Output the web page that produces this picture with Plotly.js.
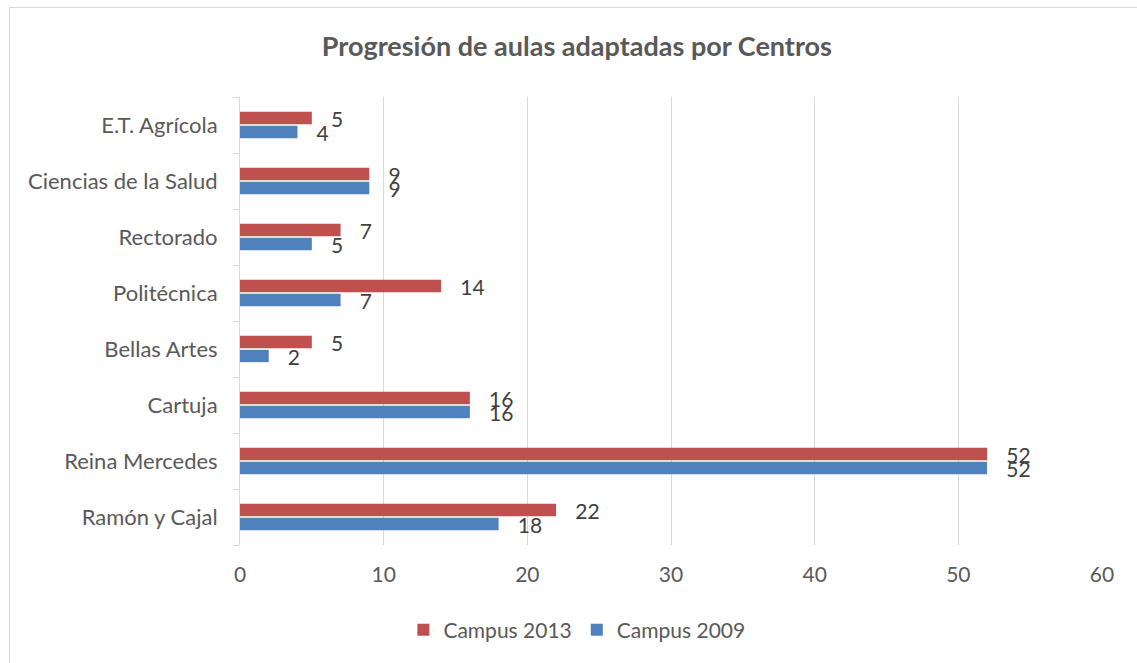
<!DOCTYPE html>
<html>
<head>
<meta charset="utf-8">
<script src="https://cdn.plot.ly/plotly-3.0.1.min.js"></script>
<style>
  html, body { margin: 0; padding: 0; background: #fff; overflow: hidden; }
  #frame { position: absolute; left: 9px; top: 7px; border-left: 1px solid #d9d9d9; border-top: 1px solid #d9d9d9; }
  #chart { width: 1127px; height: 655px; }
</style>
</head>
<body>
<div id="frame"><div id="chart"></div></div>
<script>
const categories = ['Ramón y Cajal', 'Reina Mercedes', 'Cartuja', 'Bellas Artes', 'Politécnica', 'Rectorado', 'Ciencias de la Salud', 'E.T. Agrícola'];
const campus2009 = [18, 52, 16, 2, 7, 5, 9, 4];
const campus2013 = [22, 52, 16, 5, 14, 7, 9, 5];
const xTicks = [0, 10, 20, 30, 40, 50, 60];

const FONT = 'Lato, "Open Sans", sans-serif';
const pad = '\u00a0\u00a0\u00a0';

const traces = [
  {
    type: 'bar', orientation: 'h', name: 'Campus 2009',
    y: categories, x: campus2009,
    marker: { color: '#4f81bd' },
    text: campus2009.map(String), texttemplate: pad + '%{text}',
    textposition: 'outside', constraintext: 'none', cliponaxis: false,
    textfont: { family: FONT, size: 21, color: '#404040' },
    hoverinfo: 'x+y'
  },
  {
    type: 'bar', orientation: 'h', name: 'Campus 2013',
    y: categories, x: campus2013,
    marker: { color: '#c0504d' },
    text: campus2013.map(String), texttemplate: pad + '%{text}',
    textposition: 'outside', constraintext: 'none', cliponaxis: false,
    textfont: { family: FONT, size: 21, color: '#404040' },
    hoverinfo: 'x+y'
  }
];

const layout = {
  width: 1127, height: 655,
  margin: { l: 230, r: 35, t: 89, b: 118 },
  paper_bgcolor: '#ffffff', plot_bgcolor: '#ffffff',
  font: { family: FONT, color: '#595959' },
  title: {
    text: '<b>Progresión de aulas adaptadas por Centros</b>',
    font: { family: FONT, size: 27, color: '#595959' },
    xref: 'container', x: 0.503, xanchor: 'center',
    yref: 'container', y: 1 - 39 / 655, yanchor: 'middle'
  },
  barmode: 'group', bargap: 0.5, bargroupgap: 0.12,
  xaxis: {
    range: [0, 60], tickvals: xTicks, ticktext: xTicks.map(String),
    showgrid: true, gridcolor: '#d9d9d9', gridwidth: 1,
    zeroline: false, showline: false, ticks: '',
    tickfont: { family: FONT, size: 21, color: '#595959' },
    ticklabelstandoff: 15, fixedrange: true
  },
  yaxis: {
    type: 'category', categoryorder: 'array', categoryarray: categories,
    showline: true, linecolor: '#d9d9d9', linewidth: 1,
    ticks: 'outside', tickson: 'boundaries', ticklen: 6, tickcolor: '#d9d9d9',
    showgrid: false, zeroline: false,
    tickfont: { family: FONT, size: 22, color: '#595959' },
    ticklabelstandoff: 17, fixedrange: true
  },
  showlegend: true,
  legend: {
    orientation: 'h', traceorder: 'reversed',
    xref: 'container', x: 0.503, xanchor: 'center',
    yref: 'container', y: 1 - 622 / 655, yanchor: 'middle',
    font: { family: FONT, size: 21, color: '#595959' },
    itemwidth: 30
  }
};

Plotly.newPlot('chart', traces, layout, { displayModeBar: false, staticPlot: true });
</script>
</body>
</html>
